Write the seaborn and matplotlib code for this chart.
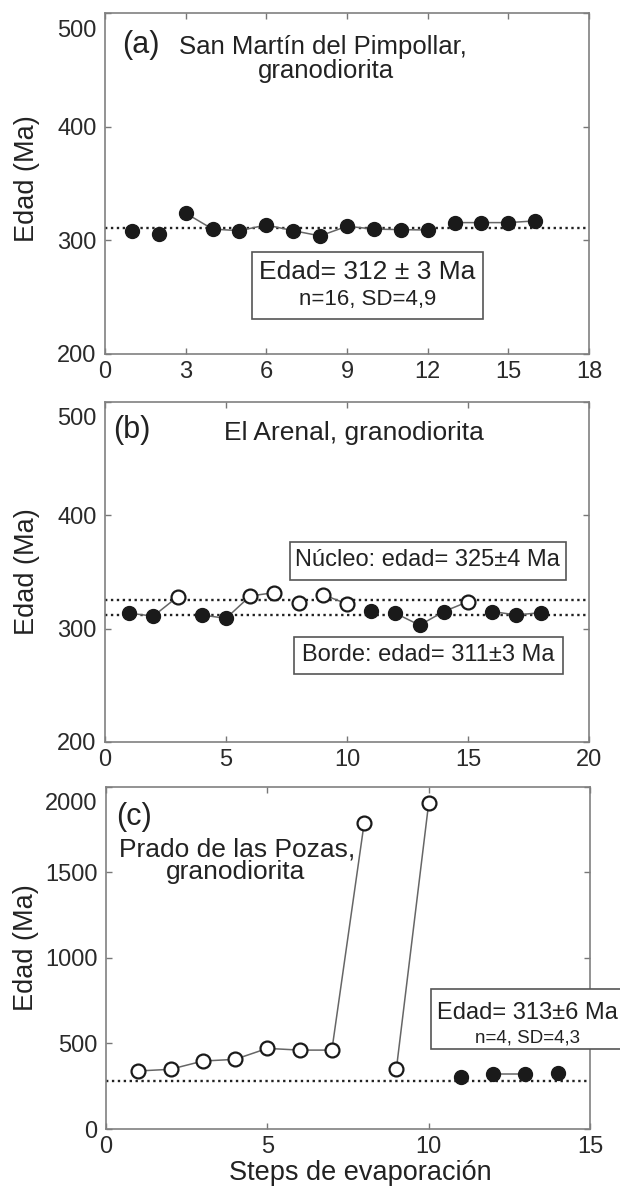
import numpy as np
import pandas as pd
import matplotlib
matplotlib.use("Agg")
import matplotlib.pyplot as plt
from matplotlib.patches import Rectangle
from matplotlib.transforms import ScaledTranslation
import seaborn as sns

# ---------------- data ----------------
a_step = list(range(1, 17))
a_age = [308.6, 305.7, 324, 310, 308.6, 313.6, 308.6, 304, 312.5, 310, 309.5, 309.2, 315.7, 315.7, 315.7, 317.2]
a_kind = ["filled"] * 16
a_seg = [0, 1, 2, 2, 2, 2, 2, 2, 2, 2, 2, 2, 3, 3, 3, 3]
a_ref = [311]

b_step = list(range(1, 19))
b_age = [313.5, 311, 328, 312, 309, 328.7, 331.7, 322.8, 330, 321.7, 315.8, 313.5, 303, 315, 323.7, 315, 312, 314]
b_kind = ["filled", "filled", "open", "filled", "filled", "open", "open", "open", "open", "open",
          "filled", "filled", "filled", "filled", "open", "filled", "filled", "filled"]
b_seg = [0, 0, 0, 1, 1, 1, 1, 2, 3, 3, 4, 5, 5, 5, 5, 6, 6, 6]
b_ref = [325, 312]

c_step = list(range(1, 15))
c_age = [339, 349, 397, 407, 471, 461, 461, 1786, 352, 1903, 302, 321, 321, 325]
c_kind = ["open"] * 10 + ["filled"] * 4
c_seg = [0, 0, 0, 0, 0, 0, 0, 0, 1, 1, 2, 3, 3, 4]
c_ref = [282]

a_xticks = [0, 3, 6, 9, 12, 15, 18]
a_yticks = [200, 300, 400, 500]
b_xticks = [0, 5, 10, 15, 20]
b_yticks = [200, 300, 400, 500]
c_xticks = [0, 5, 10, 15]
c_yticks = [0, 500, 1000, 1500, 2000]

# ---------------- style ----------------
sns.set_theme(style="ticks")
plt.rcParams["font.family"] = ["Liberation Sans", "DejaVu Sans"]
plt.rcParams.update({
    "xtick.direction": "in", "ytick.direction": "in",
    "xtick.top": True, "ytick.right": True,
    "xtick.major.size": 4, "ytick.major.size": 4,
    "xtick.major.width": 1.0, "ytick.major.width": 1.0,
    "xtick.color": "#777777", "ytick.color": "#777777",
    "xtick.labelcolor": "#2a2a2a", "ytick.labelcolor": "#2a2a2a",
    "xtick.labelsize": 17, "ytick.labelsize": 17,
    "xtick.major.pad": 5, "ytick.major.pad": 6,
    "axes.edgecolor": "#808080", "axes.linewidth": 1.2,
    "text.color": "#222222",
})

W, H = 620, 1189
fig = plt.figure(figsize=(W / 100, H / 100), dpi=100)
fig.patch.set_facecolor("white")

def ax_rect(left, top, right, bottom):
    return [left / W, 1 - bottom / H, (right - left) / W, (bottom - top) / H]

axA = fig.add_axes(ax_rect(105, 13.3, 589, 354))
axB = fig.add_axes(ax_rect(105, 401.7, 589, 742))
axC = fig.add_axes(ax_rect(106, 786.7, 590, 1129))

TXT = "#222222"
DOT = "#1a1a1a"


def draw_panel(ax, step, age, kind, seg, refs, xlim, ylim, xticks, yticks):
    df = pd.DataFrame({"step": step, "age": age, "kind": kind, "seg": seg})
    for r in refs:
        ax.axhline(r, color="#222222", lw=1.7, ls=(0, (1, 1.5)), zorder=1)
    sns.lineplot(data=df, x="step", y="age", units="seg", estimator=None, sort=False,
                 color="#666666", lw=1.1, ax=ax, legend=False, zorder=2)
    f = df[df["kind"] == "filled"]
    o = df[df["kind"] == "open"]
    if len(f):
        sns.scatterplot(data=f, x="step", y="age", s=100, color=DOT, edgecolor=DOT,
                        linewidth=1.0, ax=ax, zorder=3, legend=False)
    if len(o):
        sns.scatterplot(data=o, x="step", y="age", s=100, color="white", edgecolor=DOT,
                        linewidth=1.6, ax=ax, zorder=3, legend=False)
    ax.set_xlim(*xlim)
    ax.set_ylim(*ylim)
    ax.set_xticks(xticks)
    ax.set_yticks(yticks)
    ax.set_xlabel("")
    ax.set_ylabel("Edad (Ma)", fontsize=19.5, color=TXT)
    ax.yaxis.label.set_va("center")
    for sp in ax.spines.values():
        sp.set_visible(True)
    # top y tick label pushed down (as in reference)
    lab = ax.yaxis.get_major_ticks()[-1].label1
    lab.set_transform(lab.get_transform() + ScaledTranslation(0, -0.15, fig.dpi_scale_trans))


draw_panel(axA, a_step, a_age, a_kind, a_seg, a_ref, (0, 18), (200, 500), a_xticks, a_yticks)
draw_panel(axB, b_step, b_age, b_kind, b_seg, b_ref, (0, 20), (200, 500), b_xticks, b_yticks)
draw_panel(axC, c_step, c_age, c_kind, c_seg, c_ref, (0, 15), (0, 2000), c_xticks, c_yticks)

axA.yaxis.set_label_coords(-0.161, 0.515)
axB.yaxis.set_label_coords(-0.161, 0.5)
axC.yaxis.set_label_coords(-0.166, 0.53)

axC.set_xlabel("Steps de evaporación", fontsize=19.5, color=TXT)
axC.xaxis.set_label_coords(0.525, -0.128)
axC.xaxis.label.set_va("center")


def box(ax, x0, x1, y0, y1):
    ax.add_patch(Rectangle((x0, y0), x1 - x0, y1 - y0, facecolor="white",
                           edgecolor="#555555", lw=1.2, zorder=4, clip_on=False))

# panel (a) texts
axA.text(1.34, 472, "(a)", fontsize=22, ha="center", va="center", color=TXT)
axA.text(8.12, 470.5, "San Martín del Pimpollar,", fontsize=18.5, ha="center", va="center", color=TXT)
axA.text(8.23, 449, "granodiorita", fontsize=18.5, ha="center", va="center", color=TXT)
box(axA, 5.45, 14.07, 230.5, 289.5)
axA.text(9.76, 272.4, "Edad= 312 ± 3 Ma", fontsize=19, ha="center", va="center", color=TXT, zorder=5)
axA.text(9.76, 248.4, "n=16, SD=4,9", fontsize=16, ha="center", va="center", color=TXT, zorder=5)

# panel (b) texts
axB.text(1.12, 475, "(b)", fontsize=22, ha="center", va="center", color=TXT)
axB.text(10.3, 472, "El Arenal, granodiorita", fontsize=19, ha="center", va="center", color=TXT)
box(axB, 7.63, 19.03, 342.9, 376)
axB.text(13.33, 360.5, "Núcleo: edad= 325±4 Ma", fontsize=17, ha="center", va="center", color=TXT, zorder=5)
box(axB, 7.8, 18.91, 259.7, 292.9)
axB.text(13.36, 276.5, "Borde: edad= 311±3 Ma", fontsize=17, ha="center", va="center", color=TXT, zorder=5)

# panel (c) texts
axC.text(0.87, 1825, "(c)", fontsize=22, ha="center", va="center", color=TXT)
axC.text(4.06, 1632, "Prado de las Pozas,", fontsize=19, ha="center", va="center", color=TXT)
axC.text(4.03, 1500, "granodiorita", fontsize=19, ha="center", va="center", color=TXT)
box(axC, 10.06, 16.2, 467, 818)
axC.text(13.07, 676, "Edad= 313±6 Ma", fontsize=17, ha="center", va="center", color=TXT, zorder=5)
axC.text(13.07, 530, "n=4, SD=4,3", fontsize=13.5, ha="center", va="center", color=TXT, zorder=5)

fig.savefig("out.png", dpi=100, facecolor="white")
